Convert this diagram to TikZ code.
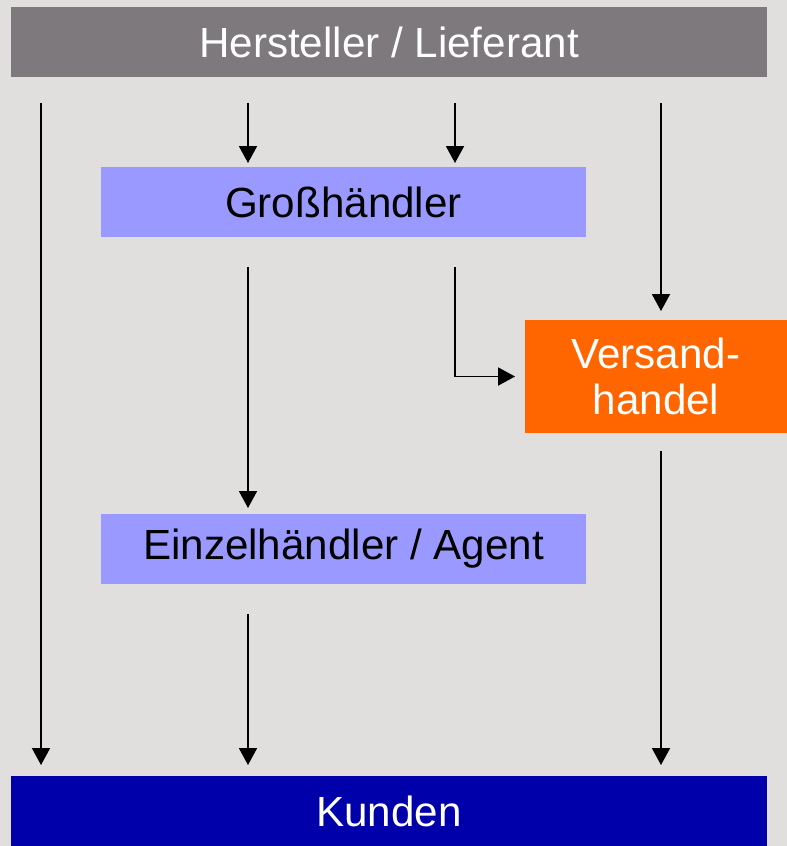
\documentclass[tikz,border=0pt]{standalone}
\usepackage{fontspec}
\setmainfont{Liberation Sans}
\usepackage{xcolor}
\definecolor{bggrey}{RGB}{224,223,222}
\definecolor{bargrey}{RGB}{125,121,124}
\definecolor{lavender}{RGB}{153,153,255}
\definecolor{orangebox}{RGB}{255,102,0}
\definecolor{darkblue}{RGB}{0,0,170}
\usepackage{tikz}
\usetikzlibrary{arrows.meta}

\begin{document}
\begin{tikzpicture}[x=0.02cm, y=-0.02cm,
	bar/.style={rectangle, inner sep=0pt, outer sep=0pt, minimum width=15.12cm,
	            minimum height=1.4cm, font=\fontsize{24}{27}\selectfont, text=white},
	haendler/.style={rectangle, fill=lavender, inner sep=0pt, outer sep=0pt, minimum width=9.7cm,
	            minimum height=1.4cm, font=\fontsize{24}{27}\selectfont},
	versand/.style={rectangle, fill=orangebox, inner sep=0pt, outer sep=0pt, minimum width=5.24cm,
	            minimum height=2.26cm, align=center, font=\fontsize{24}{26}\selectfont, text=white},
	arr/.style={-{Triangle[length=0.34cm, width=0.36cm]}, draw=black, line width=1.1pt,
	            shorten <=0.56cm, shorten >=0.16cm}
	]
% Hintergrund
\fill[bggrey] (0,0) rectangle (787,846);

% Stufen
\node[bar, fill=bargrey] (hersteller) at (389,42) {Hersteller / Lieferant};
\node[haendler] (gross) at (343.5,202) {Großhändler};
\node[versand] (versandh) at (656,376.5) {Versand-\\handel};
\node[haendler] (einzel) at (343.5,549) {Einzelhändler / Agent};
\node[bar, fill=darkblue] (kunden) at (389,811) {Kunden};

% Spalten der Pfeile
\coordinate (c1) at (41,0);
\coordinate (c2) at (248,0);
\coordinate (c3) at (455,0);
\coordinate (c4) at (661,0);

% Pfeile
\draw[arr, shorten <=0.52cm, shorten >=0.22cm] (hersteller.south -| c1) -- (kunden.north -| c1);
\draw[arr, shorten <=0.52cm, shorten >=0.08cm] (hersteller.south -| c2) -- (gross.north -| c2);
\draw[arr, shorten <=0.52cm, shorten >=0.08cm] (hersteller.south -| c3) -- (gross.north -| c3);
\draw[arr, shorten <=0.52cm, shorten >=0.18cm] (hersteller.south -| c4) -- (versandh.north -| c4);
\draw[arr, shorten <=0.6cm, shorten >=0.12cm] (gross.south -| c2) -- (einzel.north -| c2);
\draw[arr, shorten <=0.6cm, shorten >=0.2cm] (gross.south -| c3) |- (versandh.west);
\draw[arr, shorten <=0.6cm, shorten >=0.22cm] (einzel.south -| c2) -- (kunden.north -| c2);
\draw[arr, shorten <=0.36cm, shorten >=0.22cm] (versandh.south -| c4) -- (kunden.north -| c4);

\end{tikzpicture}
\end{document}
